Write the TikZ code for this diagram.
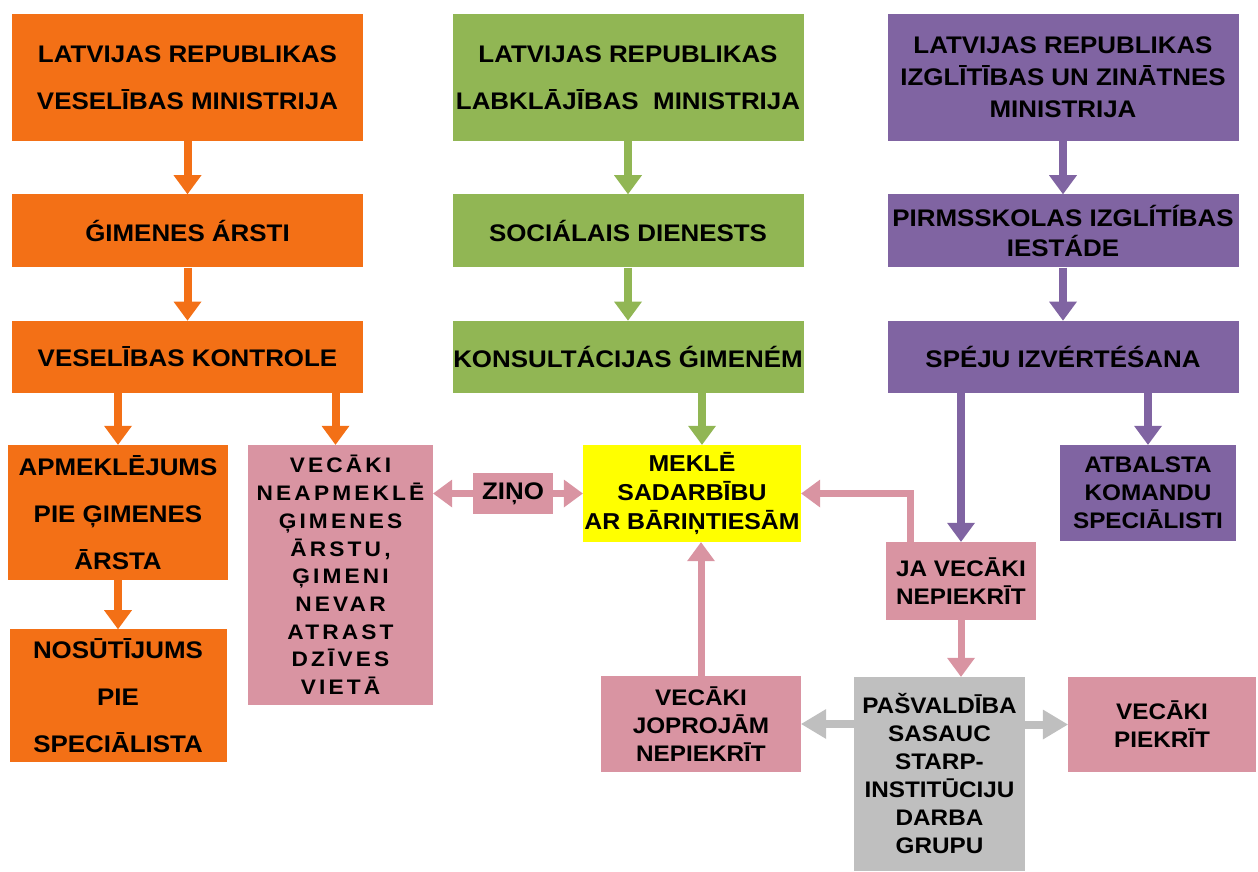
\documentclass[tikz,border=0pt]{standalone}
\usepackage{fontspec}
\setmainfont{Liberation Sans}[FakeStretch=1.08]
\newfontfamily\spacedfont{Liberation Sans}[FakeStretch=1.08,LetterSpace=15]
\usetikzlibrary{arrows.meta,positioning}

\definecolor{orangeC}{RGB}{243,112,22}
\definecolor{greenC}{RGB}{145,182,84}
\definecolor{purpleC}{RGB}{128,100,162}
\definecolor{pinkC}{RGB}{217,148,162}
\definecolor{greyC}{RGB}{191,191,191}
\definecolor{yellowC}{RGB}{255,255,0}

\begin{document}
\begin{tikzpicture}[
    x=1pt, y=-1pt,
    node distance=53pt,
    box/.style={
      rectangle,
      inner sep=0pt,
      align=center,
      font=\bfseries\fontsize{22.5}{28}\selectfont
    },
    topbox/.style={
      box,
      minimum width=351pt,
      font=\bfseries\fontsize{24}{47}\selectfont
    },
    obox/.style={fill=orangeC},
    gbox/.style={fill=greenC},
    vbox/.style={fill=purpleC},
    pbox/.style={fill=pinkC},
    grbox/.style={fill=greyC},
    arr/.style={
      line width=8pt,
      -{Triangle[width=28pt,length=19pt,line width=0pt]}
    },
    oarr/.style={arr, draw=orangeC},
    garr/.style={arr, draw=greenC},
    varr/.style={arr, draw=purpleC},
    parr/.style={arr, draw=pinkC, line width=7pt},
    grarr/.style={arr, draw=greyC,
      -{Triangle[width=30pt,length=25pt,line width=0pt]}}
  ]
  \useasboundingbox (0,0) rectangle (1258,871);

  % health column
  \node[topbox, obox, minimum height=127pt] (minveselibas) at (187.5,77.5)
    {LATVIJAS REPUBLIKAS\\VESELĪBAS MINISTRIJA};
  \node[topbox, obox, minimum height=73pt, below=of minveselibas] (arsti)
    {ǴIMENES ÁRSTI};
  \node[topbox, obox, minimum height=72pt, below=of arsti] (kontrole)
    {VESELĪBAS KONTROLE};
  \node[box, obox, font=\bfseries\fontsize{24}{47}\selectfont,
    minimum width=220pt, minimum height=135pt] (apmeklejums) at (118,512.5)
    {APMEKLĒJUMS\\PIE ĢIMENES\\ĀRSTA};
  \node[box, obox, font=\bfseries\fontsize{24}{47}\selectfont,
    minimum width=217pt, minimum height=133pt, below=49pt of apmeklejums] (nosutijums)
    {NOSŪTĪJUMS\\PIE\\SPECIĀLISTA};
  \node[box, pbox, font=\spacedfont\bfseries\fontsize{21}{27.7}\selectfont,
    minimum width=185pt, minimum height=260pt] (neapmekle) at (340.5,575)
    {VECĀKI\\NEAPMEKLĒ\\ĢIMENES\\ĀRSTU,\\ĢIMENI\\NEVAR\\ATRAST\\DZĪVES\\VIETĀ};

  % welfare column
  \node[topbox, gbox, minimum height=127pt] (minlabklajibas) at (628,77.5)
    {LATVIJAS REPUBLIKAS\\LABKLĀJĪBAS~ MINISTRIJA};
  \node[topbox, gbox, minimum height=73pt, below=of minlabklajibas] (dienests)
    {SOCIÁLAIS DIENESTS};
  \node[topbox, gbox, minimum height=72pt, below=of dienests] (konsultacijas)
    {KONSULTÁCIJAS ǴIMENÉM};
  \node[box, fill=yellowC, font=\bfseries\fontsize{23}{29}\selectfont,
    minimum width=218pt, minimum height=97pt] (mekle) at (692,493.5)
    {MEKLĒ\\SADARBĪBU\\AR BĀRIŅTIESĀM};
  \node[box, pbox, font=\bfseries\fontsize{24}{28}\selectfont,
    minimum width=80pt, minimum height=41pt] (zino) at (513,493.5) {ZIŅO};
  \node[box, pbox, minimum width=200pt, minimum height=96pt] (joprojam) at (701,724)
    {VECĀKI\\JOPROJĀM\\NEPIEKRĪT};

  % education column
  \node[topbox, vbox, minimum height=127pt,
    font=\bfseries\fontsize{24}{32}\selectfont] (minizglitibas) at (1063,77.5)
    {LATVIJAS REPUBLIKAS\\IZGLĪTĪBAS UN ZINĀTNES\\MINISTRIJA};
  \node[topbox, vbox, minimum height=73pt, below=of minizglitibas,
    font=\bfseries\fontsize{24}{30}\selectfont] (iestade)
    {PIRMSSKOLAS IZGLÍTÍBAS\\IESTÁDE};
  \node[topbox, vbox, minimum height=72pt, below=of iestade] (izvertesana)
    {SPÉJU IZVÉRTÉŚANA};
  \node[box, vbox, minimum width=176pt, minimum height=96pt] (komandas) at (1148,493)
    {ATBALSTA\\KOMANDU\\SPECIĀLISTI};
  \node[box, pbox, minimum width=150pt, minimum height=78pt] (nepiekrit) at (961,581)
    {JA VECĀKI\\NEPIEKRĪT};
  \node[box, grbox, minimum width=171pt, minimum height=194pt] (pasvaldiba) at (939.5,774)
    {PAŠVALDĪBA\\SASAUC\\STARP-\\INSTITŪCIJU\\DARBA\\GRUPU};
  \node[box, pbox, minimum width=188pt, minimum height=95pt] (piekrit) at (1162,724.5)
    {VECĀKI\\PIEKRĪT};

  % arrows
  \draw[oarr] (minveselibas) -- (arsti);
  \draw[oarr] (arsti) -- (kontrole);
  \draw[oarr] (kontrole.south -| apmeklejums.north) -- (apmeklejums.north);
  \draw[oarr] ([xshift=-5pt]kontrole.south -| neapmekle.north) -- ([xshift=-5pt]neapmekle.north);
  \draw[oarr] (apmeklejums.south -| nosutijums.north) -- (nosutijums.north);

  \draw[garr] (minlabklajibas) -- (dienests);
  \draw[garr] (dienests) -- (konsultacijas);
  \draw[garr] ([xshift=10pt]konsultacijas.south -| mekle.north) -- ([xshift=10pt]mekle.north);

  \draw[varr] (minizglitibas) -- (iestade);
  \draw[varr] (iestade) -- (izvertesana);
  \draw[varr] (izvertesana.south -| nepiekrit.north) -- (nepiekrit.north);
  \draw[varr] (izvertesana.south -| komandas.north) -- (komandas.north);

  \draw[parr] (zino.west) -- (zino.west -| neapmekle.east);
  \draw[parr] (zino.east) -- (mekle.west);
  \draw[parr] ([xshift=-51pt]nepiekrit.north) |- (mekle.east);
  \draw[parr] (joprojam.north) -- (joprojam.north |- mekle.south);
  \draw[parr] (nepiekrit.south) -- (nepiekrit.south |- pasvaldiba.north);

  \draw[grarr] (joprojam.east -| pasvaldiba.west) -- (joprojam.east);
  \draw[grarr] (piekrit.west -| pasvaldiba.east) -- (piekrit.west);
\end{tikzpicture}
\end{document}
